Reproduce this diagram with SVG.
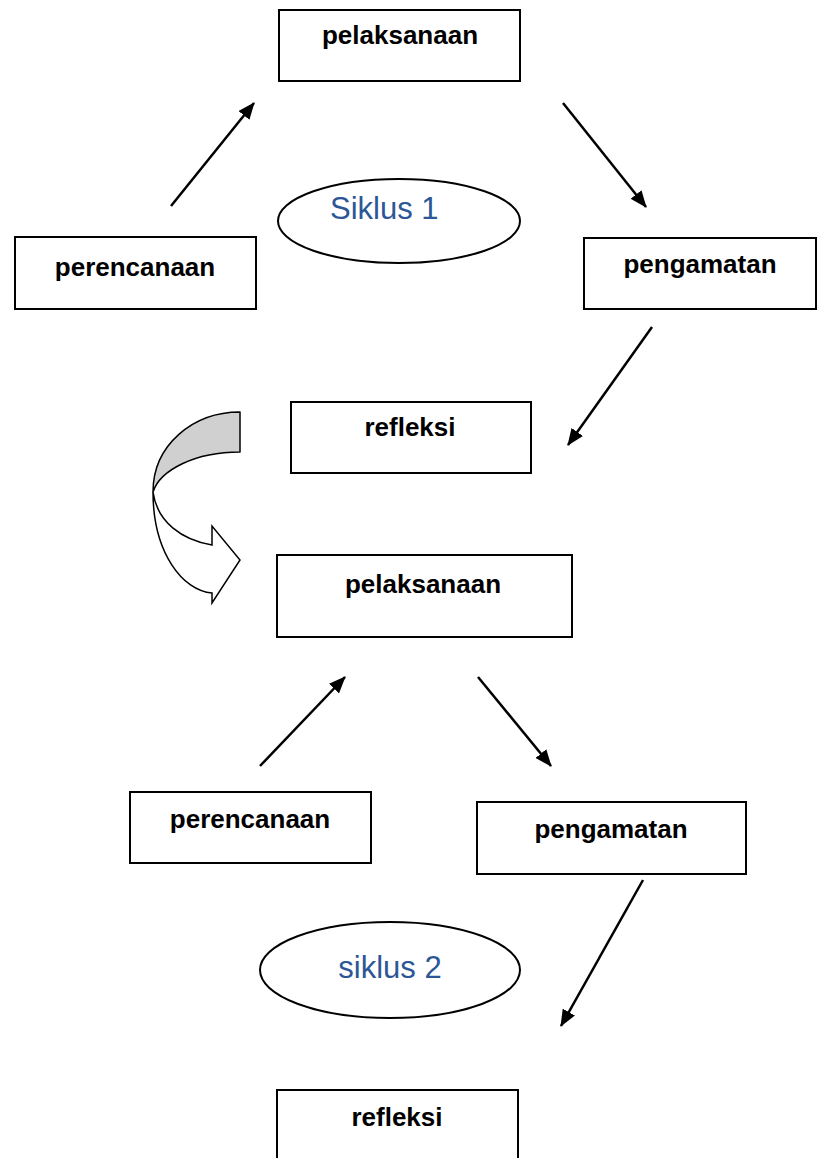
<svg xmlns="http://www.w3.org/2000/svg" width="817" height="1158" viewBox="0 0 817 1158">
<defs>
<style>
.box{fill:#fff;stroke:#000;stroke-width:2}
.lbl{font-family:"Liberation Sans",Arial,sans-serif;font-weight:bold;font-size:26px;fill:#000;text-anchor:middle}
.cyc{font-family:"Liberation Sans",Arial,sans-serif;font-size:31px;fill:#2B5797}
.ell{fill:#fff;stroke:#000;stroke-width:2}
.con{stroke:#000;stroke-width:2.5;fill:none;marker-end:url(#ah)}
</style>
<marker id="ah" markerUnits="userSpaceOnUse" markerWidth="18" markerHeight="14" refX="16" refY="7" orient="auto">
<path d="M0,0 L17,7 L0,14 z" fill="#000"/>
</marker>
</defs>
<rect width="817" height="1158" fill="#fff"/>
<g id="pelaksanaan1"><rect class="box" x="279" y="10" width="241" height="71"/><text class="lbl" x="400" y="44">pelaksanaan</text></g>
<g id="perencanaan1"><rect class="box" x="15" y="237" width="241" height="72"/><text class="lbl" x="135" y="276">perencanaan</text></g>
<g id="pengamatan1"><rect class="box" x="584" y="238" width="232" height="71"/><text class="lbl" x="700" y="273">pengamatan</text></g>
<g id="siklus1"><ellipse class="ell" cx="399" cy="221" rx="121" ry="42"/><text class="cyc" x="330" y="219">Siklus 1</text></g>
<g id="refleksi1"><rect class="box" x="291" y="402" width="240" height="71"/><text class="lbl" x="410" y="436">refleksi</text></g>
<g id="curvedArrow">
<path d="M240,412 C193,412 153,445 153,492 C160,470 195,452 240,452 Z" fill="#d0d0d0" stroke="#000" stroke-width="1.5" stroke-linejoin="round"/>
<path d="M153,492 C153,553 183,591 212,593 L212,603 L240,560 L212,526 L212,545 C182,540 157,522 153,492 Z" fill="#fff" stroke="#000" stroke-width="1.5" stroke-linejoin="miter"/>
</g>
<g id="pelaksanaan2"><rect class="box" x="277" y="555" width="295" height="82"/><text class="lbl" x="423" y="593">pelaksanaan</text></g>
<g id="perencanaan2"><rect class="box" x="130" y="792" width="241" height="71"/><text class="lbl" x="250" y="828">perencanaan</text></g>
<g id="pengamatan2"><rect class="box" x="477" y="802" width="269" height="72"/><text class="lbl" x="611" y="838">pengamatan</text></g>
<g id="siklus2"><ellipse class="ell" cx="390" cy="970" rx="130" ry="48"/><text class="cyc" x="390" y="978" text-anchor="middle">siklus 2</text></g>
<g id="refleksi2"><rect class="box" x="277" y="1090" width="241" height="80"/><text class="lbl" x="397" y="1126">refleksi</text></g>
<g id="connectors">
<line class="con" x1="171" y1="206" x2="254" y2="103"/>
<line class="con" x1="563" y1="103" x2="646" y2="207"/>
<line class="con" x1="652" y1="327" x2="568" y2="445"/>
<line class="con" x1="260" y1="766" x2="345" y2="677"/>
<line class="con" x1="478" y1="677" x2="551" y2="766"/>
<line class="con" x1="643" y1="880" x2="561" y2="1026"/>
</g>
</svg>
